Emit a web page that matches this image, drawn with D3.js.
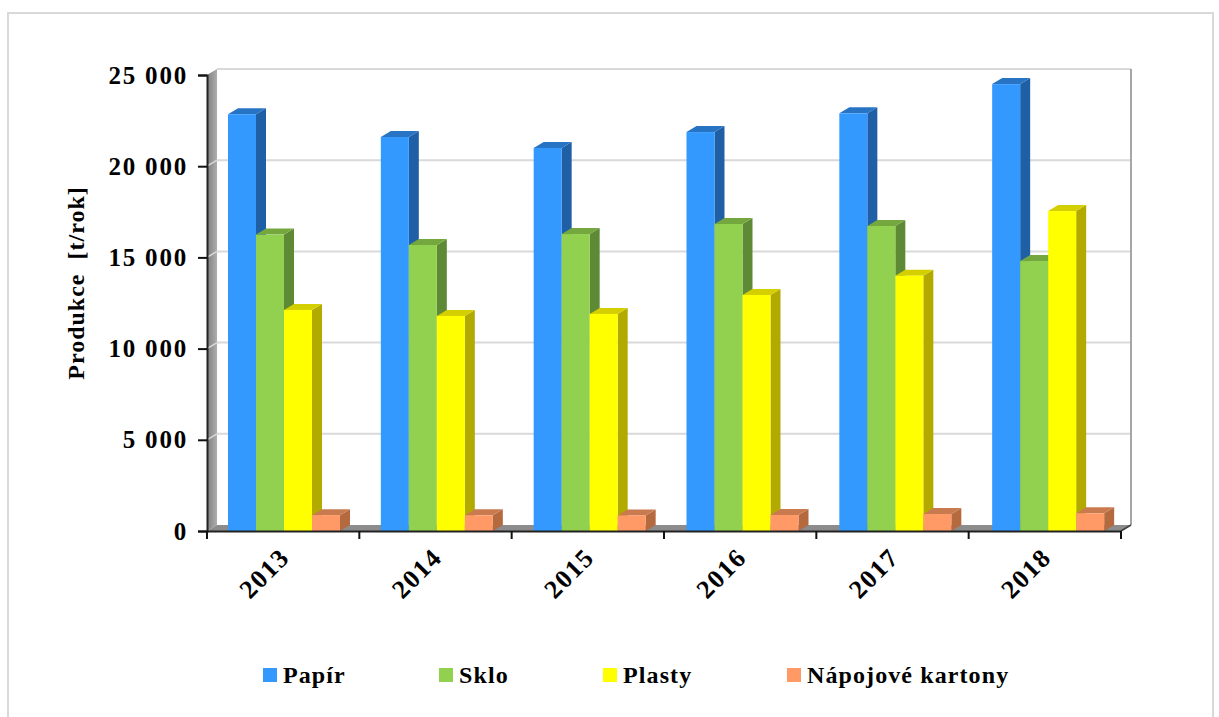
<!DOCTYPE html>
<html>
<head>
<meta charset="utf-8">
<script src="https://cdn.jsdelivr.net/npm/d3@7"></script>
<style>
html, body {margin: 0; padding: 0; background: #fff;}
svg {display: block;}
text {font-family: "Liberation Serif", serif; font-weight: bold; fill: #000;}
</style>
</head>
<body>
<div id="chart"></div>
<script>
var years = ["2013", "2014", "2015", "2016", "2017", "2018"];
var seriesNames = ["Papír", "Sklo", "Plasty", "Nápojové kartony"];
var papir = [22850, 21600, 21000, 21870, 22900, 24500];
var sklo = [16250, 15680, 16280, 16830, 16720, 14800];
var plasty = [12120, 11790, 11900, 12940, 14000, 17540];
var kartony = [870, 860, 850, 880, 930, 970];
var yTicks = [0, 5000, 10000, 15000, 20000, 25000];
var yLabel = "Produkce  [t/rok]";

var values = [papir, sklo, plasty, kartony];
var colors = ["#3399ff", "#92d050", "#ffff00", "#ff9966"];
var sideColors = ["#1f5fa6", "#5f8a35", "#b3aa00", "#b5693f"];
var topColors = ["#2874c4", "#74a83f", "#d4cf00", "#c97a4f"];

var margin = {top: 75, left: 207};
var width = 914, height = 456;
var depth = {x: 10, y: 6};

var svg = d3.select("#chart").append("svg")
    .attr("width", 1219)
    .attr("height", 717);

// wall shading
var wallGrad = svg.append("defs").append("linearGradient")
    .attr("id", "wallGrad");
wallGrad.append("stop").attr("offset", "0%").attr("stop-color", "#7f7f7f");
wallGrad.append("stop").attr("offset", "100%").attr("stop-color", "#aeaeae");

// outer frame
svg.append("path")
   .attr("d", "M8,717V13H1213V717")
   .attr("fill", "none")
   .attr("stroke", "#d9d9d9")
   .attr("stroke-width", 2);

var xScale = d3.scaleBand().domain(years).range([0, width]);
// bars drift a little against the ticks in the original
var barScale = d3.scaleBand().domain(years).range([0, 917]);
var groupScale = d3.scaleBand().domain(d3.range(4))
    .range([21, 133]);
var yScale = d3.scaleLinear().domain([0, 25000]).range([height, 0]);

var plot = svg.append("g")
    .attr("transform", "translate(" + margin.left + "," + margin.top + ")");

// 3d walls
plot.append("path")
    .attr("d", "M0,0L" + depth.x + "," + (-depth.y) + "V" + (height - depth.y) + "L0," + height + "Z")
    .attr("fill", "url(#wallGrad)");
plot.append("path")
    .attr("d", "M0," + height + "L" + depth.x + "," + (height - depth.y) + "H" + (width + depth.x) + "L" + width + "," + height + "Z")
    .attr("fill", "#8c8c8c");

// gridlines on the back wall
plot.selectAll("line.grid")
    .data(yTicks.slice(1))
    .enter()
    .append("line")
    .attr("class", "grid")
    .attr("x1", depth.x)
    .attr("x2", width + depth.x)
    .attr("y1", function(d) {return yScale(d) - depth.y;})
    .attr("y2", function(d) {return yScale(d) - depth.y;})
    .attr("stroke", "#d9d9d9")
    .attr("stroke-width", 2);

plot.append("line")
    .attr("x1", width + depth.x).attr("x2", width + depth.x)
    .attr("y1", -depth.y).attr("y2", height - depth.y)
    .attr("stroke", "#a6a6a6")
    .attr("stroke-width", 2);

// small diagonals from the wall to the ticks
plot.selectAll("line.diag")
    .data(yTicks.slice(1, 5))
    .enter()
    .append("line")
    .attr("class", "diag")
    .attr("x1", 0)
    .attr("x2", depth.x)
    .attr("y1", function(d) {return yScale(d);})
    .attr("y2", function(d) {return yScale(d) - depth.y;})
    .attr("stroke", "#d9d9d9")
    .attr("stroke-width", 1.5);

plot.append("path")
    .attr("d", "M" + width + "," + height + "L" + (width + depth.x) + "," + (height - depth.y))
    .attr("stroke", "#404040")
    .attr("stroke-width", 1.5);

// bars
years.forEach(function(year, i) {
    var g = plot.append("g")
                .attr("transform", "translate(" + barScale(year) + ",0)");
    values.forEach(function(series, s) {
        var x0 = groupScale(s), w = groupScale.bandwidth();
        var top = yScale(series[i]);
        g.append("path")
         .attr("d", "M" + (x0 + w) + "," + top + "l" + depth.x + "," + (-depth.y) + "V" + (height - depth.y) + "L" + (x0 + w) + "," + height + "Z")
         .attr("fill", sideColors[s]);
        g.append("path")
         .attr("d", "M" + x0 + "," + top + "l" + depth.x + "," + (-depth.y) + "h" + w + "l" + (-depth.x) + "," + depth.y + "Z")
         .attr("fill", topColors[s]);
        g.append("rect")
         .attr("x", x0)
         .attr("y", top)
         .attr("width", w)
         .attr("height", height - top)
         .attr("fill", colors[s]);
    });
});

// axes
var yAxis = d3.axisLeft(yScale)
    .tickValues(yTicks)
    .tickSize(9)
    .tickPadding(10)
    .tickFormat(function(d) {return d3.format(",")(d).replace(",", " ");});

var yG = plot.append("g").call(yAxis);
yG.select(".domain").attr("stroke", "#222").attr("stroke-width", 2);
yG.selectAll(".tick line").attr("stroke", "#111").attr("stroke-width", 2);
yG.selectAll("text")
  .style("font-family", "Liberation Serif")
  .style("font-weight", "bold")
  .style("font-size", "25px")
  .style("letter-spacing", "1.8px");

var xG = plot.append("g")
    .attr("transform", "translate(0," + height + ")")
    .call(d3.axisBottom(xScale).tickSize(0).tickFormat(""));
xG.select(".domain").attr("stroke", "#222").attr("stroke-width", 2);

plot.selectAll("line.xtick")
    .data(years.concat("end"))
    .enter()
    .append("line")
    .attr("class", "xtick")
    .attr("x1", function(d, i) {return i * xScale.step();})
    .attr("x2", function(d, i) {return i * xScale.step();})
    .attr("y1", height)
    .attr("y2", height + 8)
    .attr("stroke", "#111")
    .attr("stroke-width", 2);

plot.selectAll("text.year")
    .data(years)
    .enter()
    .append("text")
    .attr("class", "year")
    .attr("transform", function(d) {
        return "translate(" + (xScale(d) + xScale.bandwidth() / 2 - 19) + "," + (height + 42) + ") rotate(-45)";
    })
    .attr("text-anchor", "middle")
    .attr("dy", "0.35em")
    .style("font-size", "26px")
    .style("letter-spacing", "1.5px")
    .text(function(d) {return d;});

svg.append("text")
   .attr("transform", "translate(76,283) rotate(-90)")
   .attr("text-anchor", "middle")
   .attr("dy", "0.35em")
   .style("font-size", "24px")
   .style("letter-spacing", "1px")
   .style("white-space", "pre")
   .text(yLabel);

// legend
var legendX = [263, 439, 603, 787];
var legend = svg.selectAll("g.legend")
    .data(seriesNames)
    .enter()
    .append("g")
    .attr("class", "legend")
    .attr("transform", function(d, i) {return "translate(" + legendX[i] + ",668)";});

legend.append("rect")
      .attr("width", 14)
      .attr("height", 14)
      .attr("fill", function(d, i) {return colors[i];});

legend.append("text")
      .attr("x", 20)
      .attr("y", 7)
      .attr("dy", "0.35em")
      .style("font-size", "24px")
      .style("letter-spacing", "1.1px")
      .text(function(d) {return d;});
</script>
</body>
</html>
